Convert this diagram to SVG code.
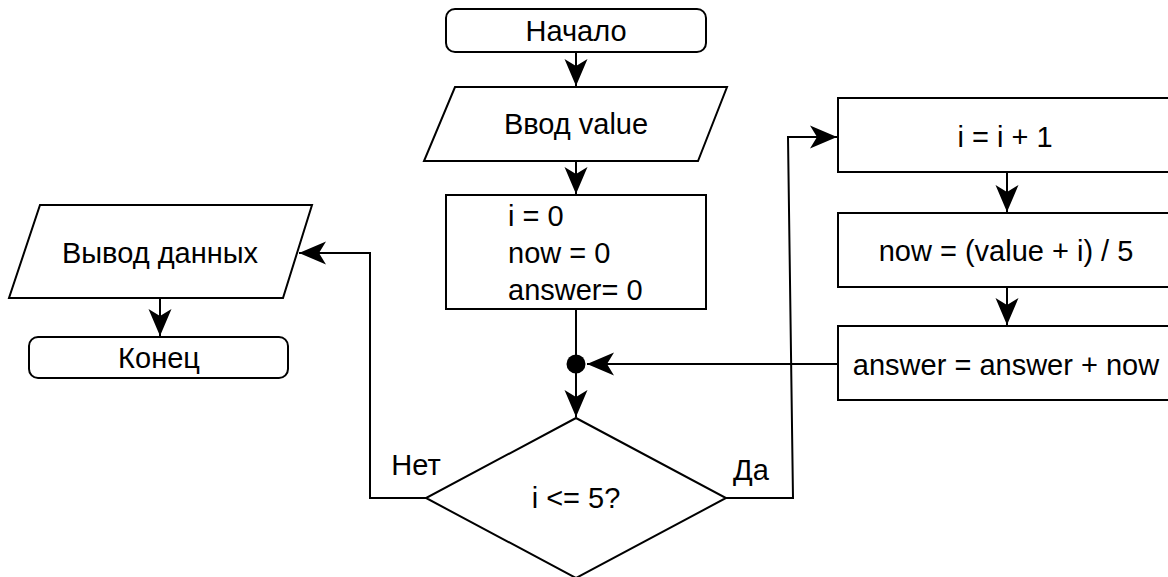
<svg xmlns="http://www.w3.org/2000/svg" width="1168" height="577" viewBox="0 0 1168 577">
  <defs>
    <!-- notched block arrowhead, tip at the path end -->
    <marker id="arrow" viewBox="-28 -13 30 26" refX="0" refY="0" markerWidth="30" markerHeight="26" markerUnits="userSpaceOnUse" orient="auto">
      <path d="M0,0 L-27,-11.5 L-20,0 L-27,11.5 Z" fill="#000"/>
    </marker>
  </defs>
  <style>
    .shape { fill: #fff; stroke: #000; stroke-width: 2; }
    .edge { fill: none; stroke: #000; stroke-width: 2; }
    text { font-family: "Liberation Sans", Arial, sans-serif; font-size: 29px; fill: #000; }
    .c { text-anchor: middle; }
  </style>
  <rect width="1168" height="577" fill="#fff"/>

  <!-- connectors -->
  <g id="connectors">
    <path class="edge" d="M576,52 L576,86" marker-end="url(#arrow)"/>
    <path class="edge" d="M576,161 L576,194" marker-end="url(#arrow)"/>
    <path class="edge" d="M576,309 L576,364"/>
    <path class="edge" d="M576,364 L576,417" marker-end="url(#arrow)"/>
    <path class="edge" d="M838,364 L587,364" marker-end="url(#arrow)"/>
    <path class="edge" d="M1007,172 L1007,212" marker-end="url(#arrow)"/>
    <path class="edge" d="M1007,287 L1007,325" marker-end="url(#arrow)"/>
    <!-- "yes" branch -->
    <path class="edge" d="M726,498 L793,498 L788,137 L837,137" marker-end="url(#arrow)"/>
    <!-- "no" branch -->
    <path class="edge" d="M426,498 L370,498 L370,253 L299,253" marker-end="url(#arrow)"/>
    <path class="edge" d="M160,298 L160,336" marker-end="url(#arrow)"/>
    <circle cx="576" cy="364" r="9.5" fill="#000"/>
    <text x="416" y="475" class="c">Нет</text>
    <text x="751" y="480" class="c">Да</text>
  </g>

  <g id="start">
    <rect class="shape" x="446" y="9" width="260" height="43" rx="9"/>
    <text x="576" y="41" class="c">Начало</text>
  </g>

  <g id="input">
    <polygon class="shape" points="455,87 727,87 698,161 424,161"/>
    <text x="576" y="134" class="c">Ввод value</text>
  </g>

  <g id="init">
    <rect class="shape" x="446" y="195" width="260" height="114"/>
    <text x="508" y="226">i = 0</text>
    <text x="508" y="263">now = 0</text>
    <text x="508" y="300">answer= 0</text>
  </g>

  <g id="condition">
    <polygon class="shape" points="576,418 726,498 576,578 426,498"/>
    <text x="576" y="508" class="c">i &lt;= 5?</text>
  </g>

  <g id="increment">
    <rect class="shape" x="838" y="98" width="338" height="74"/>
    <text x="1005" y="147" class="c">i = i + 1</text>
  </g>

  <g id="compute-now">
    <rect class="shape" x="838" y="213" width="338" height="74"/>
    <text x="1006" y="261" class="c">now = (value + i) / 5</text>
  </g>

  <g id="accumulate">
    <rect class="shape" x="838" y="326" width="338" height="74"/>
    <text x="1006" y="375" class="c">answer = answer + now</text>
  </g>

  <g id="output">
    <polygon class="shape" points="40,205 312,205 283,298 9,298"/>
    <text x="160" y="263" class="c">Вывод данных</text>
  </g>

  <g id="end">
    <rect class="shape" x="29" y="337" width="259" height="41" rx="9"/>
    <text x="159" y="368" class="c">Конец</text>
  </g>
</svg>
